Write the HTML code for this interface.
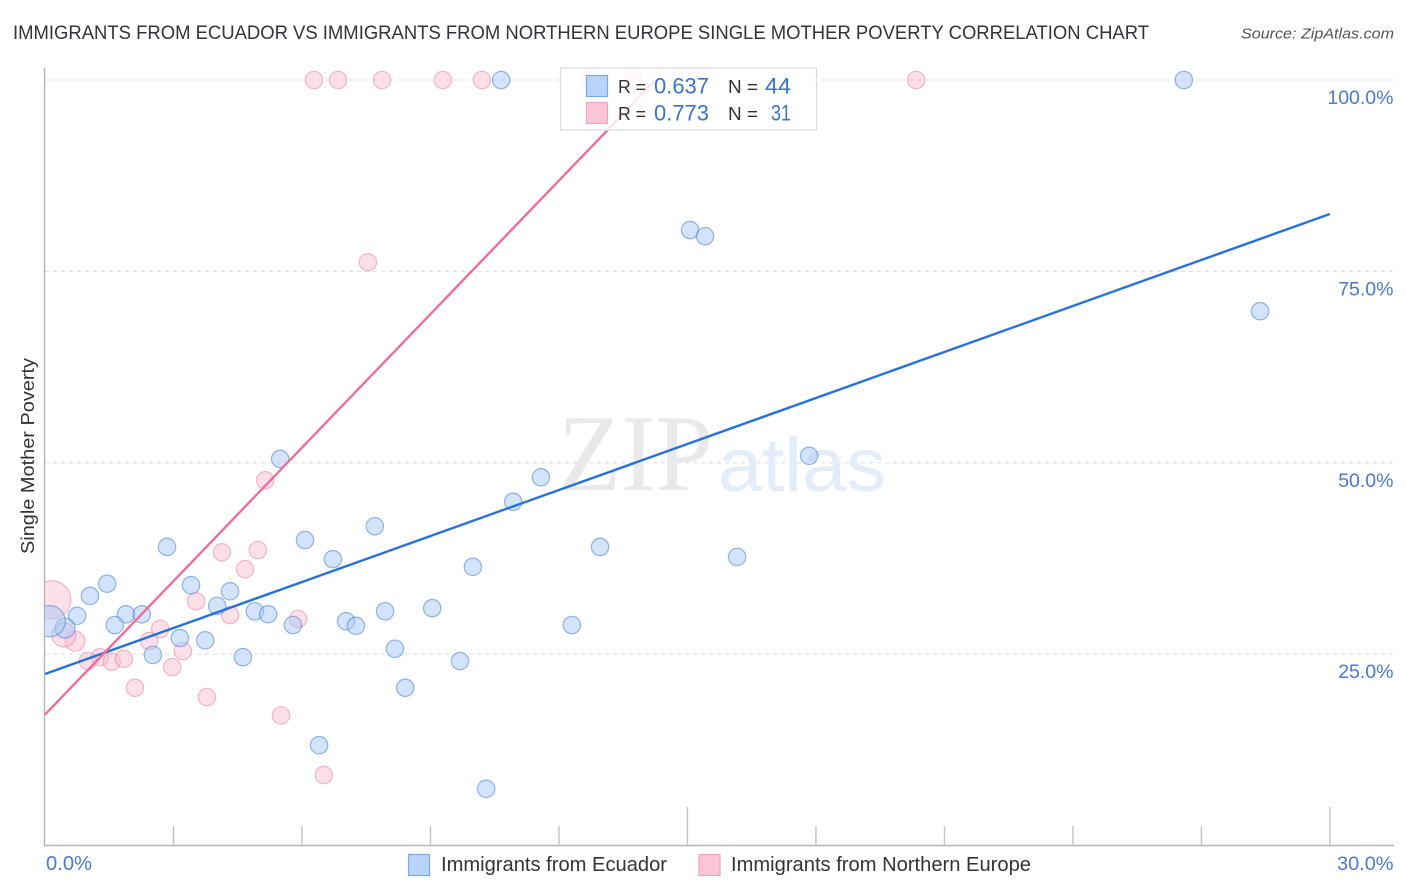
<!DOCTYPE html>
<html lang="en">
<head>
<meta charset="utf-8">
<title>Immigrants from Ecuador vs Immigrants from Northern Europe Single Mother Poverty Correlation Chart</title>
<style>
html,body{margin:0;padding:0;background:#fff;}
body{width:1406px;height:892px;overflow:hidden;}
svg{display:block;font-family:"Liberation Sans",sans-serif;}
</style>
</head>
<body>
<svg id="chart" width="1406" height="892" viewBox="0 0 1406 892">
  <defs>
    <clipPath id="plot-clip"><rect x="45" y="60" width="1349" height="786"/></clipPath>
  </defs>
  <text x="13" y="39" font-size="19.5" fill="#33333b" textLength="1136" lengthAdjust="spacingAndGlyphs">IMMIGRANTS FROM ECUADOR VS IMMIGRANTS FROM NORTHERN EUROPE SINGLE MOTHER POVERTY CORRELATION CHART</text>
  <text x="1241" y="38.5" font-size="15" font-style="italic" fill="#555" textLength="153" lengthAdjust="spacingAndGlyphs">Source: ZipAtlas.com</text>
  <text transform="translate(34 456) rotate(-90)" text-anchor="middle" font-size="18.5" fill="#333" textLength="196" lengthAdjust="spacingAndGlyphs">Single Mother Poverty</text>

  <g id="grid"></g>

  <g>
    <text x="558" y="490" font-family="'Liberation Serif',serif" font-size="109" fill="#e9e9e9" textLength="155" lengthAdjust="spacingAndGlyphs">ZIP</text>
    <text x="718" y="491" font-size="76" fill="#e3ecf9" textLength="168" lengthAdjust="spacingAndGlyphs">atlas</text>
  </g>

  <g id="axes"></g>
  <g id="points" clip-path="url(#plot-clip)"></g>
  <g id="trends"></g>
  <g id="tick-labels"></g>

  <g>
    <rect x="560.5" y="68" width="256" height="62" fill="#fff" fill-opacity="0.82" stroke="#dcdcdc" stroke-width="1.2"/>
    <rect x="586.5" y="75.5" width="21" height="21" fill="#b9d4fa" stroke="#7fa9e3" stroke-width="1.2"/>
    <rect x="586.5" y="102.5" width="21" height="21" fill="#fcc5d6" stroke="#f0a3bc" stroke-width="1.2"/>
    <text x="618" y="93" font-size="18" fill="#333" textLength="28" lengthAdjust="spacingAndGlyphs">R =</text>
    <text x="654" y="93.5" font-size="22" fill="#3a72d0" textLength="55" lengthAdjust="spacingAndGlyphs">0.637</text>
    <text x="728" y="93" font-size="18" fill="#333" textLength="30" lengthAdjust="spacingAndGlyphs">N =</text>
    <text x="765" y="93.5" font-size="22" fill="#3a72d0" textLength="26" lengthAdjust="spacingAndGlyphs">44</text>
    <text x="618" y="120" font-size="18" fill="#333" textLength="28" lengthAdjust="spacingAndGlyphs">R =</text>
    <text x="654" y="120.5" font-size="22" fill="#3a72d0" textLength="55" lengthAdjust="spacingAndGlyphs">0.773</text>
    <text x="728" y="120" font-size="18" fill="#333" textLength="30" lengthAdjust="spacingAndGlyphs">N =</text>
    <text x="771" y="120.5" font-size="22" fill="#3a72d0" textLength="20" lengthAdjust="spacingAndGlyphs">31</text>
  </g>

  <g>
    <rect x="408.5" y="854.5" width="21" height="21" fill="#b9d4fa" stroke="#7fa9e3" stroke-width="1.2"/>
    <text x="441" y="871" font-size="20" fill="#33333b" textLength="226" lengthAdjust="spacingAndGlyphs">Immigrants from Ecuador</text>
    <rect x="699" y="854.5" width="21" height="21" fill="#fcc5d6" stroke="#f0a3bc" stroke-width="1.2"/>
    <text x="731" y="871" font-size="20" fill="#33333b" textLength="300" lengthAdjust="spacingAndGlyphs">Immigrants from Northern Europe</text>
  </g>
</svg>

<script>
// Data
const ecuadorX = [10.65,26.59,15.06,15.41,28.37,17.84,5.49,11.58,10.93,7.70,6.07,2.85,12.96,16.16,6.72,9.99,1.45,3.41,4.32,1.05,4.02,4.90,7.94,9.04,1.89,2.26,5.21,0.75,5.79,7.03,7.26,1.63,12.30,0.47,3.15,3.74,8.17,2.52,4.62,9.69,8.41,6.40,10.30,0.11];
const ecuadorY = [100,100,80.4,79.6,69.8,50.9,50.5,48.1,44.9,41.7,39.9,39.0,39.0,37.7,37.4,36.4,34.2,34.0,33.2,32.6,31.3,30.6,30.6,31.0,30.2,30.2,30.2,30.0,28.8,29.3,28.7,28.8,28.8,28.4,27.1,26.8,25.7,24.9,24.6,24.1,20.6,13.1,7.4,29.3];
const ecuadorWeight = [1,1,1,1,1,1,1,1,1,1,1,1,1,1,1,1,1,1,1,1,1,1,1,1,1,1,1,1,1,1,1,1,1,1.32,1,1,1,1,1,1,1,1,1,3.2];
const europeX = [6.28,6.84,7.87,9.29,10.20,20.34,12.75,13.73,7.54,5.14,4.13,4.97,4.67,3.53,4.32,5.91,2.69,2.43,0.70,0.44,0.16,1.28,1.00,1.56,1.84,3.22,2.97,2.10,3.78,5.51,6.51];
const europeY = [100,100,100,100,100,100,100,100,76.2,47.7,38.3,38.6,36.1,31.9,30.1,29.6,28.3,26.7,26.7,27.5,32.1,24.6,24.1,24.0,24.4,25.4,23.3,20.6,19.4,17.0,9.2];
const europeWeight = [1,1,1,1,1,1,1,1,1,1,1,1,1,1,1,1,1,1,1.32,1.9,4.8,1,1,1,1,1,1,1,1,1,1];
const ecuadorTrendX = [0,30];
const ecuadorTrendY = [22.4,82.5];
const europeTrendX = [0,14.26];
const europeTrendY = [17.1,100];
const yTicks = [25,50,75,100];
const yTickLabels = ["25.0%","50.0%","75.0%","100.0%"];
const xTicks = [3,6,9,12,15,18,21,24,27,30];
const xMajorTicks = [15,30];
const xEndLabels = ["0.0%","30.0%"];

// Axis functions
function xScale(v){ return 45 + v * 42.83; }
function yScale(v){ return 845.5 - v * 7.655; }
function radius(w){ return 8.7 * Math.sqrt(w); }

const NS = 'http://www.w3.org/2000/svg';
function mk(parent, tag, attrs){
  const el = document.createElementNS(NS, tag);
  for (const k in attrs) el.setAttribute(k, attrs[k]);
  parent.appendChild(el);
  return el;
}

const grid = document.getElementById('grid');
yTicks.forEach(function(t){
  const g = mk(grid, 'line', {x1:45, x2:1393, y1:yScale(t), y2:yScale(t), stroke:'#dedede', 'stroke-width':1, 'stroke-dasharray':'4 4'});
  
  
});

const axes = document.getElementById('axes');
const yAxis = mk(axes, 'line', {x1:44.5, x2:44.5, y1:68, y2:846, stroke:'#b4b4b4', 'stroke-width':1.4});


const xAxis = mk(axes, 'line', {x1:44, x2:1394, y1:845.5, y2:845.5, stroke:'#b4b4b4', 'stroke-width':1.4});


xTicks.forEach(function(t){
  const major = xMajorTicks.indexOf(t) >= 0;
  const tick = mk(axes, 'line', {x1:xScale(t), x2:xScale(t), y1:major ? 807 : 826, y2:845.5, stroke:'#c4c4c4', 'stroke-width':1.4});
  
  
});

const points = document.getElementById('points');
europeX.forEach(function(x, i){
  const c = mk(points, 'circle', {cx:xScale(x), cy:yScale(europeY[i]), r:radius(europeWeight[i]), fill:'#fbbcd0', 'fill-opacity':0.48, stroke:'#e8799f', 'stroke-opacity':0.5, 'stroke-width':1.2});
  
  
});
ecuadorX.forEach(function(x, i){
  const c = mk(points, 'circle', {cx:xScale(x), cy:yScale(ecuadorY[i]), r:radius(ecuadorWeight[i]), fill:'#a9caf5', 'fill-opacity':0.52, stroke:'#3f80d8', 'stroke-opacity':0.55, 'stroke-width':1.2});
  
  
});

const trends = document.getElementById('trends');
const blueTrend = mk(trends, 'line', {x1:xScale(ecuadorTrendX[0]), y1:yScale(ecuadorTrendY[0]), x2:xScale(ecuadorTrendX[1]), y2:yScale(ecuadorTrendY[1]), stroke:'#2672d8', 'stroke-width':2.4});


const pinkTrend = mk(trends, 'line', {x1:xScale(europeTrendX[0]), y1:yScale(europeTrendY[0]), x2:xScale(europeTrendX[1]), y2:yScale(europeTrendY[1]), stroke:'#ec6f98', 'stroke-width':2.4});



const labels = document.getElementById('tick-labels');
yTicks.forEach(function(t, i){
  const l = mk(labels, 'text', {x:1393.5, y:yScale(t) + 24, 'text-anchor':'end', 'font-size':19.5, fill:'#4a78d2'});
  l.textContent = yTickLabels[i];
  
  
});
const xStart = mk(labels, 'text', {x:46, y:870, 'font-size':20, fill:'#4a78d2', textLength:46, lengthAdjust:'spacingAndGlyphs'});
xStart.textContent = xEndLabels[0];


const xEnd = mk(labels, 'text', {x:1337, y:870, 'font-size':19.5, fill:'#4a78d2', textLength:56.5, lengthAdjust:'spacingAndGlyphs'});
xEnd.textContent = xEndLabels[1];


</script>
</body>
</html>
